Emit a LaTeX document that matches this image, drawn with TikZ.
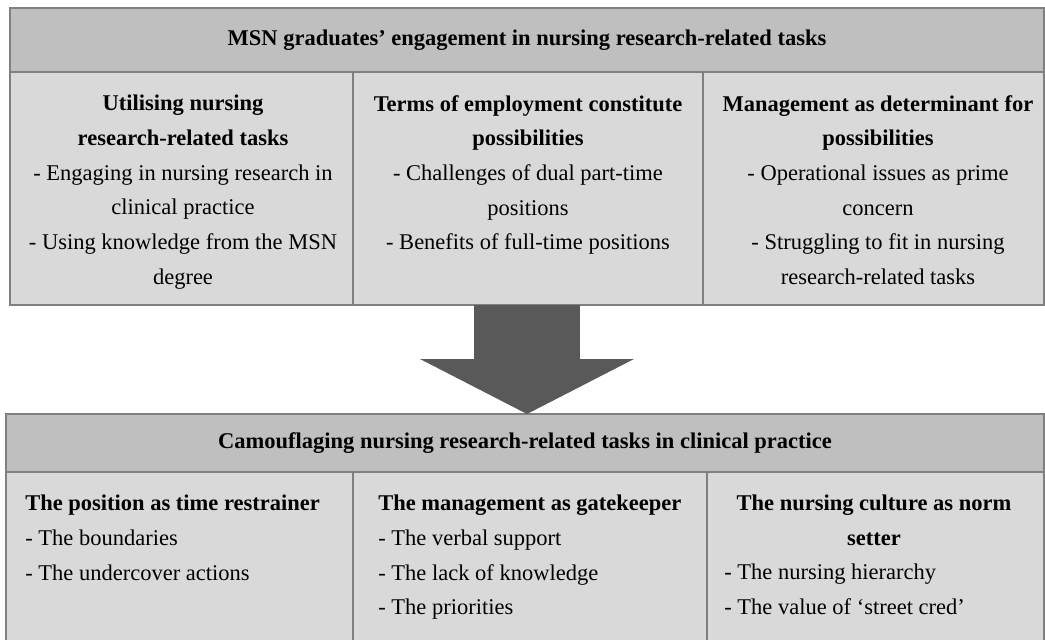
\documentclass[tikz,border=0pt]{standalone}
\usepackage{fontspec}
\setmainfont{Liberation Serif}
\usetikzlibrary{arrows.meta,positioning}

\definecolor{headgray}{HTML}{BFBFBF}
\definecolor{themegray}{HTML}{D9D9D9}
\definecolor{boxline}{HTML}{808080}
\definecolor{arrowgray}{HTML}{595959}

\tikzset{
    headbox/.style={draw=boxline, fill=headgray, line width=1.2pt, outer sep=0pt, inner sep=0pt,
        font=\bfseries\fontsize{13.5}{20.8}\selectfont},
    themebox/.style={draw=boxline, fill=themegray, line width=1.2pt, outer sep=0pt, inner sep=0pt,
        anchor=north west},
    themetext/.style={inner sep=0pt, font=\fontsize{13.5}{20.8}\selectfont},
}

\begin{document}
\begin{tikzpicture}[x=0.6pt, y=-0.6pt]
        \clip (0,0) rectangle (1045,639);
        % upper table
        \node[headbox, minimum width=620.4pt, minimum height=38.4pt] (toptitle) at (527,40)
            {\raisebox{-1.2pt}{MSN graduates' engagement in nursing research-related tasks}};
        \node[themebox, minimum width=205.8pt, minimum height=139.8pt] (util) at (toptitle.south west) {};
        \node[themebox, minimum width=210pt, minimum height=139.8pt] (terms) at (util.north east) {};
        \node[themebox, minimum width=204.6pt, minimum height=139.8pt] (mgmt) at (terms.north east) {};
        \node[themetext, anchor=north, align=center] (utiltext) at (183,95)
            {\textbf{Utilising nursing}\\\textbf{research-related tasks}\\- Engaging in nursing research in\\clinical practice\\- Using knowledge from the MSN\\degree};
        \node[themetext, anchor=north, align=center] (termstext) at (528,95)
            {\textbf{Terms of employment constitute}\\\textbf{possibilities}\\- Challenges of dual part-time\\positions\\- Benefits of full-time positions};
        \node[themetext, anchor=north, align=center] (mgmttext) at (878,95)
            {\textbf{Management as determinant for}\\\textbf{possibilities}\\- Operational issues as prime\\concern\\- Struggling to fit in nursing\\research-related tasks};
        % lower table
        \node[headbox, minimum width=622.8pt, minimum height=34.8pt] (camo) at (525,443)
            {\raisebox{-1.2pt}{Camouflaging nursing research-related tasks in clinical practice}};
        \node[themebox, minimum width=208.2pt, minimum height=120pt] (position) at (camo.south west) {};
        \node[themebox, minimum width=212.4pt, minimum height=120pt] (gate) at (position.north east) {};
        \node[themebox, minimum width=202.2pt, minimum height=120pt] (culture) at (gate.north east) {};
        \node[themetext, anchor=north west, align=left] (positiontext) at (25,495)
            {\textbf{The position as time restrainer}\\- The boundaries\\- The undercover actions};
        \node[themetext, anchor=north west, align=left] (gatetext) at (378,495)
            {\textbf{The management as gatekeeper}\\- The verbal support\\- The lack of knowledge\\- The priorities};
        \node[themetext, anchor=north, align=center] (culturehead) at (874,495)
            {\textbf{The nursing culture as norm}\\\textbf{setter}};
        \node[themetext, anchor=north west, align=left] (culturetext) at (724,564)
            {- The nursing hierarchy\\- The value of `street cred'};
        % big arrow
        \draw[arrowgray, line width=63.6pt, -{Triangle[width=128.4pt, length=33pt, line width=0pt]}]
            (util.south -| toptitle.south) -- (camo.north -| toptitle.south);
    \end{tikzpicture}
\end{document}
